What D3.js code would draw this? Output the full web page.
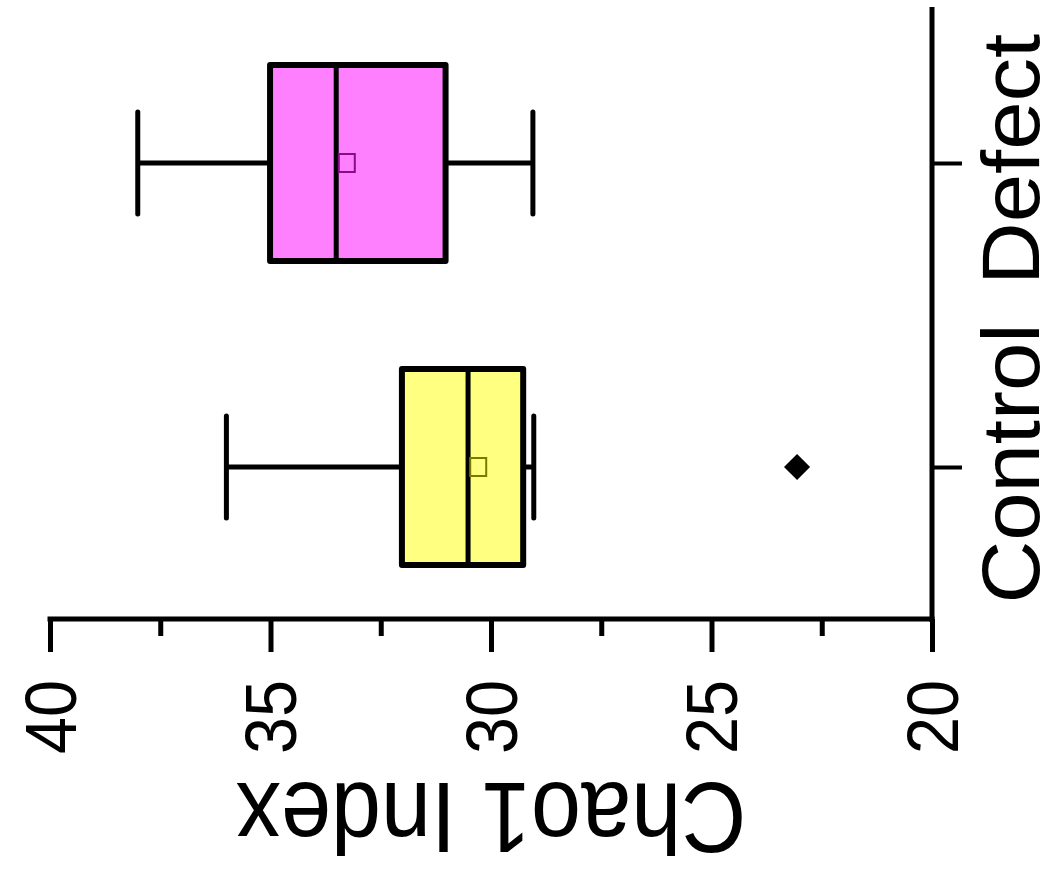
<!DOCTYPE html>
<html>
<head>
<meta charset="utf-8">
<script src="https://cdn.jsdelivr.net/npm/d3@7"></script>
<style>
  html, body { margin: 0; padding: 0; background: #fff; }
  svg { display: block; }
  text { font-family: "Liberation Sans", Arial, sans-serif; fill: #000; }
</style>
</head>
<body>
<svg id="chart" width="1057" height="888"></svg>
<script>
// ---- data ----
const categories = ["Control", "Defect"];
const whiskerLow = [29.03, 29.05];
const q1Values = [29.27, 31.03];
const medianValues = [30.52, 33.51];
const q3Values = [32.02, 35.01];
const whiskerHigh = [36.0, 38.01];
const meanValues = [30.29, 33.27];
const outlierCategories = ["Control"];
const outlierValues = [23.06];
const majorTicks = [40, 35, 30, 25, 20];
const minorTicks = [37.5, 32.5, 27.5, 22.5];
const yTitle = "Chao1 Index";

// ---- styles ----
const boxFill = {Control: "#ffff80", Defect: "#ff80ff"};
const meanStroke = {Control: "#7a7a00", Defect: "#8a0a8a"};

const svg = d3.select("#chart");

// value scale runs horizontally (chart rotated 90° counter-clockwise)
const x = d3.scaleLinear().domain([40, 20]).range([50, 932]);
const y = d3.scalePoint().domain(categories).range([619, 11]).padding(0.5);

const boxHalf = 98;
const capHalf = 51;

// ---- value axis (bottom) ----
const gx = svg.append("g").attr("transform", "translate(0,619)");
gx.call(d3.axisBottom(x).tickValues(majorTicks).tickSize(33).tickFormat(d3.format("d")));
gx.select(".domain").remove();
gx.selectAll(".tick line").attr("stroke", "#000").attr("stroke-width", 5);
gx.selectAll(".tick text")
  .attr("font-size", 70)
  .attr("text-anchor", "end")
  .attr("y", null).attr("dy", null)
  .attr("transform", "translate(0,61) rotate(-90) scale(0.95,1.04)")
  .attr("dy", "0.35em")
  .attr("x", 0);
const gxm = svg.append("g").attr("transform", "translate(0,619)");
gxm.call(d3.axisBottom(x).tickValues(minorTicks).tickSize(17).tickFormat(""));
gxm.select(".domain").remove();
gxm.selectAll(".tick line").attr("stroke", "#000").attr("stroke-width", 5);
svg.append("line")
  .attr("x1", x(40) - 2.5).attr("x2", x(20) + 2.5)
  .attr("y1", 619).attr("y2", 619)
  .attr("stroke", "#000").attr("stroke-width", 5);

// ---- category axis (right) ----
const gy = svg.append("g").attr("transform", `translate(${x(20)},0)`);
gy.call(d3.axisRight(y).tickSize(30));
gy.select(".domain").remove();
gy.selectAll(".tick line").attr("stroke", "#000").attr("stroke-width", 4);
gy.selectAll(".tick text")
  .attr("font-size", 82)
  .attr("text-anchor", "middle")
  .attr("x", null).attr("dy", null)
  .attr("transform", "translate(107,-4) rotate(-90) scale(1.06,1)")
  .attr("dy", "0");
svg.append("line")
  .attr("x1", x(20)).attr("x2", x(20))
  .attr("y1", 7).attr("y2", 622)
  .attr("stroke", "#000").attr("stroke-width", 5);

// ---- boxes ----
const rows = categories.map((c, i) => ({
  cat: c, lo: whiskerLow[i], q1: q1Values[i], med: medianValues[i],
  q3: q3Values[i], hi: whiskerHigh[i], mean: meanValues[i]
}));

const g = svg.append("g");
rows.forEach(d => {
  const cy = y(d.cat);
  // whiskers
  g.append("line").attr("x1", x(d.hi)).attr("x2", x(d.q3)).attr("y1", cy).attr("y2", cy)
    .attr("stroke", "#000").attr("stroke-width", 5);
  g.append("line").attr("x1", x(d.q1)).attr("x2", x(d.lo)).attr("y1", cy).attr("y2", cy)
    .attr("stroke", "#000").attr("stroke-width", 5);
  g.append("line").attr("x1", x(d.hi)).attr("x2", x(d.hi)).attr("y1", cy - capHalf).attr("y2", cy + capHalf)
    .attr("stroke", "#000").attr("stroke-width", 5).attr("stroke-linecap", "round");
  g.append("line").attr("x1", x(d.lo)).attr("x2", x(d.lo)).attr("y1", cy - capHalf).attr("y2", cy + capHalf)
    .attr("stroke", "#000").attr("stroke-width", 5).attr("stroke-linecap", "round");
  // box
  g.append("rect")
    .attr("x", x(d.q3)).attr("width", x(d.q1) - x(d.q3))
    .attr("y", cy - boxHalf).attr("height", 2 * boxHalf)
    .attr("fill", boxFill[d.cat]).attr("stroke", "#000").attr("stroke-width", 6)
    .attr("stroke-linejoin", "round");
  // median
  g.append("line").attr("x1", x(d.med)).attr("x2", x(d.med))
    .attr("y1", cy - boxHalf).attr("y2", cy + boxHalf)
    .attr("stroke", "#000").attr("stroke-width", 5);
  // mean
  g.append("rect")
    .attr("x", x(d.mean) - 8).attr("y", cy - 9).attr("width", 16).attr("height", 18)
    .attr("fill", "none").attr("stroke", meanStroke[d.cat]).attr("stroke-width", 2);
});

// ---- outliers ----
outlierValues.forEach((v, i) => {
  g.append("path")
    .attr("d", d3.symbol(d3.symbolSquare, 340)())
    .attr("transform", `translate(${x(v)},${y(outlierCategories[i])}) rotate(45)`)
    .attr("fill", "#000");
});

// ---- value axis title (upside down) ----
svg.append("text")
  .attr("transform", `translate(${x(30)},783) rotate(180) scale(1,1.12)`)
  .attr("text-anchor", "middle")
  .attr("font-size", 90)
  .text(yTitle);
</script>
</body>
</html>
